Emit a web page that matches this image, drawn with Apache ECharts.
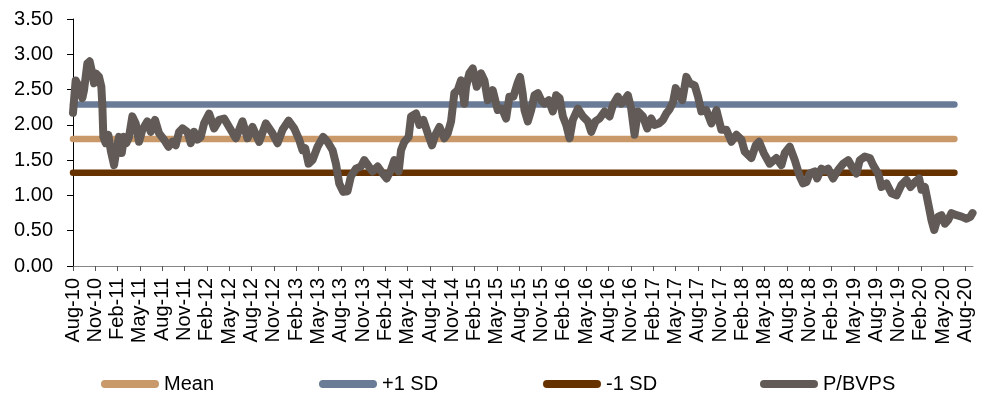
<!DOCTYPE html>
<html>
<head>
<meta charset="utf-8">
<script src="https://cdn.jsdelivr.net/npm/echarts@6/dist/echarts.min.js"></script>
<style>html,body{margin:0;padding:0;background:#fff}#c{width:992px;height:394px}</style>
</head>
<body>
<div id="c"></div>
<script>
// X tick labels (one every 3 months, starting Aug-10)
const tickLabels = ['Aug-10','Nov-10','Feb-11','May-11','Aug-11','Nov-11','Feb-12','May-12','Aug-12','Nov-12',
  'Feb-13','May-13','Aug-13','Nov-13','Feb-14','May-14','Aug-14','Nov-14','Feb-15','May-15','Aug-15','Nov-15',
  'Feb-16','May-16','Aug-16','Nov-16','Feb-17','May-17','Aug-17','Nov-17','Feb-18','May-18','Aug-18','Nov-18',
  'Feb-19','May-19','Aug-19','Nov-19','Feb-20','May-20','Aug-20'];

// P/BVPS observations: months elapsed since Aug-2010 and the ratio
const months = [0,0.36,0.81,1.26,1.48,1.93,2.24,2.6,2.83,3.05,3.5,3.81,3.95,4.08,4.39,4.75,5.07,5.52,5.83,6.19,
  6.55,6.86,7.17,7.53,7.98,8.43,8.88,9.33,10.0,10.45,11.03,11.57,12.24,12.83,13.36,13.81,14.26,14.71,15.38,15.83,
  16.28,16.73,17.17,17.62,18.3,18.97,19.65,20.32,20.99,21.89,22.79,23.46,24.13,25.03,25.93,26.82,27.5,28.17,28.98,29.74,
  30.41,30.86,31.22,31.67,32.2,32.88,33.64,34.22,34.9,35.35,35.79,36.33,36.91,37.36,38.04,38.71,39.16,39.84,40.29,40.96,
  41.63,42.17,42.75,43.2,43.79,44.1,44.55,45.13,45.45,46.12,46.57,47.1,47.69,48.27,48.72,49.26,49.93,50.38,50.83,51.27,
  51.72,52.17,52.62,52.84,53.29,53.74,54.28,54.86,55.31,55.76,56.43,57.1,57.69,58.23,58.67,59.21,59.8,60.1,60.45,60.7,
  61.15,61.6,62.05,62.5,62.94,63.39,63.98,64.51,64.96,65.41,65.86,66.31,66.76,67.2,67.88,68.55,69.22,69.67,70.25,70.79,
  71.46,72.14,72.59,73.26,73.71,74.16,74.6,75.05,75.5,75.95,76.62,77.2,77.74,78.19,78.77,79.31,79.76,80.2,80.67,81.03,
  81.48,81.92,82.46,82.91,83.58,84.03,84.48,85.15,85.83,86.5,87.17,87.84,88.52,89.19,89.86,90.31,91.21,91.79,92.24,92.87,
  93.67,94.57,95.24,95.69,96.36,97.04,97.71,98.16,98.61,99.05,99.73,100.04,100.62,101.07,101.52,102.19,102.87,103.54,104.21,104.88,
  105.33,105.78,106.45,107.13,107.57,108.25,108.7,109.37,110.04,110.71,111.39,112.06,112.6,113.18,113.76,114.08,114.53,114.97,115.42,115.78,
  116.32,116.77,117.22,117.66,118.11,118.79,119.46,120.13,120.67,120.94];
const pbvps = [2.17,2.63,2.54,2.38,2.49,2.87,2.90,2.73,2.59,2.73,2.68,2.54,2.26,1.83,1.74,1.86,1.64,1.43,1.64,1.83,
  1.60,1.83,1.74,1.83,2.12,2.02,1.76,1.93,2.05,1.90,2.07,1.88,1.79,1.69,1.76,1.71,1.90,1.95,1.90,1.74,
  1.90,1.79,1.83,2.02,2.16,1.95,2.07,2.09,1.97,1.81,2.05,1.81,1.97,1.76,2.02,1.88,1.74,1.93,2.06,1.95,
  1.79,1.64,1.67,1.45,1.50,1.69,1.83,1.76,1.64,1.45,1.17,1.05,1.06,1.27,1.38,1.41,1.50,1.40,1.34,1.41,
  1.31,1.24,1.36,1.50,1.34,1.64,1.76,1.83,2.12,2.16,2.00,2.07,1.88,1.71,1.86,1.97,1.81,1.88,2.05,2.45,
  2.49,2.63,2.30,2.54,2.73,2.80,2.54,2.73,2.63,2.35,2.49,2.21,2.23,2.09,2.40,2.40,2.60,2.68,2.45,2.21,
  2.05,2.21,2.42,2.45,2.35,2.30,2.35,2.19,2.42,2.38,2.12,2.00,1.81,2.07,2.23,2.12,2.05,1.90,2.05,2.09,
  2.19,2.12,2.28,2.40,2.30,2.35,2.42,2.23,1.86,2.19,2.12,1.95,2.09,2.00,2.02,2.07,2.16,2.22,2.32,2.52,
  2.42,2.35,2.68,2.59,2.56,2.40,2.19,2.21,2.02,2.21,1.93,1.93,1.76,1.86,1.79,1.62,1.53,1.71,1.76,1.60,
  1.45,1.53,1.43,1.60,1.69,1.50,1.27,1.17,1.19,1.31,1.34,1.24,1.38,1.35,1.38,1.24,1.36,1.45,1.50,1.38,
  1.31,1.50,1.55,1.53,1.43,1.31,1.12,1.17,1.03,1.00,1.15,1.22,1.12,1.19,1.24,1.08,1.12,0.89,0.65,0.51,
  0.70,0.72,0.60,0.65,0.75,0.72,0.70,0.67,0.70,0.75];

// Reference levels and the span (in months) over which they are drawn
const meanValue = 1.80;
const plusOneSD = 2.29;
const minusOneSD = 1.32;
const bandSpan = [0, 118.5];

const seriesNames = ['Mean', '+1 SD', '-1 SD', 'P/BVPS'];
const colors = ['#C9996A', '#697B96', '#663300', '#615A56'];

const tickValues = tickLabels.map((_, i) => i * 3);
const pbvpsData = months.map((m, i) => [m, pbvps[i]]);
const levelData = v => bandSpan.map(m => [m, v]);

const FONT = "'Liberation Sans', Arial, Helvetica, sans-serif";
const capsule = 'path://M4,0H54A4,4 0 0 1 54,8H4A4,4 0 0 1 4,0Z';
const legendLefts = [101, 319, 543, 760];

function lineSeries(name, data, color, width) {
  return {
    name, type: 'line', data, symbol: 'none', showSymbol: false, silent: true,
    itemStyle: { color },
    lineStyle: { color, width, cap: 'round', join: 'round' },
    emphasis: { disabled: true }
  };
}

const chart = echarts.init(document.getElementById('c'), null, { renderer: 'canvas' });
chart.setOption({
  animation: false,
  backgroundColor: '#fff',
  textStyle: { fontFamily: FONT },
  grid: { left: 73, right: 19, top: 19, bottom: 128, containLabel: false, outerBoundsMode: 'none' },
  legend: seriesNames.map((n, i) => ({
    data: [{ name: n, icon: capsule }],
    left: legendLefts[i], top: 374, padding: 0, itemGap: 0,
    itemWidth: 58, itemHeight: 8,
    itemStyle: { borderWidth: 0 },
    textStyle: { fontSize: 20, color: '#000', fontFamily: FONT },
    selectedMode: false
  })),
  xAxis: {
    type: 'value', min: 0, max: 121,
    splitLine: { show: false },
    axisLine: { show: true, onZero: false, lineStyle: { color: '#868686', width: 1 } },
    axisTick: { show: true, customValues: tickValues, length: 5, lineStyle: { color: '#555' } },
    axisLabel: {
      customValues: tickValues, rotate: 90, margin: 12, fontSize: 20, color: '#000', fontFamily: FONT,
      formatter: v => tickLabels[Math.round(v / 3)] || ''
    }
  },
  yAxis: {
    type: 'value', min: 0, max: 3.5, interval: 0.5,
    splitLine: { show: false },
    axisLine: { show: true, lineStyle: { color: '#000', width: 1 } },
    axisTick: { show: true, length: 6, lineStyle: { color: '#000' } },
    axisLabel: { fontSize: 20, margin: 20, color: '#000', fontFamily: FONT, formatter: v => v.toFixed(2) }
  },
  series: [
    lineSeries(seriesNames[0], levelData(meanValue), colors[0], 6.5),
    lineSeries(seriesNames[1], levelData(plusOneSD), colors[1], 6.5),
    lineSeries(seriesNames[2], levelData(minusOneSD), colors[2], 6.5),
    lineSeries(seriesNames[3], pbvpsData, colors[3], 8)
  ]
});
</script>
</body>
</html>
